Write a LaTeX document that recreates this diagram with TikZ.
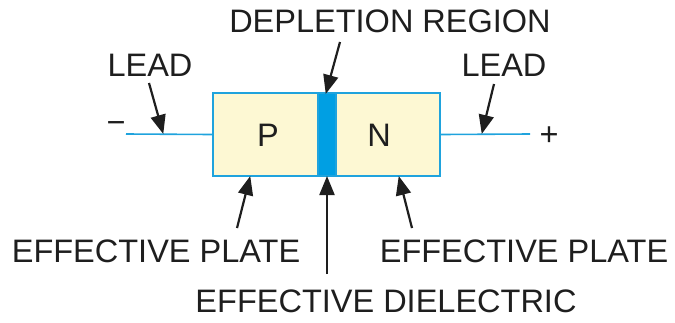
\documentclass[tikz,border=0pt]{standalone}
\usepackage{fontspec}
\setmainfont{Liberation Sans}
\usetikzlibrary{arrows.meta}
\definecolor{leadblue}{HTML}{1FA3DD}
\definecolor{bandblue}{HTML}{009FE3}
\definecolor{plate}{HTML}{FDF8D3}
\definecolor{ink}{HTML}{1E1E1E}
\tikzset{
  lbl/.style={font=\fontsize{32.5}{35}\selectfont, text=ink, inner sep=0pt},
  region/.style={draw=leadblue, line width=2pt, fill=plate, minimum height=83pt, inner sep=0pt},
  bandbox/.style={draw=leadblue, line width=2pt, fill=bandblue, minimum height=83pt, minimum width=18pt, inner sep=0pt},
  leadline/.style={draw=leadblue, line width=1.6pt},
  ptr/.style={draw=ink, line width=2.2pt, -{Triangle[length=19pt,width=15pt]}, shorten >=-1pt}
}
\begin{document}
\begin{tikzpicture}[x=1pt,y=-1pt]
\useasboundingbox (0,0) rectangle (675,322);
% regions
\node[region, minimum width=105pt] (pbox) at (265.5,134.5) {};
\node[region, minimum width=104pt] (nbox) at (388,134.5) {};
\node[bandbox] (band) at (327,134.5) {};
\node[lbl] (ptxt) at (268,135) {P};
\node[lbl] (ntxt) at (379,135) {N};
% leads
\coordinate (leadL) at (126,134);
\coordinate (leadR) at (530,134);
\draw[leadline] (leadL) -- (pbox.west);
\draw[leadline] (nbox.east) -- (leadR);
\node[lbl] (minus) at (116,128) {−};
\node[lbl] (plus) at (549,136) {+};
% labels
\node[lbl] (depl) at (390,21) {DEPLETION REGION};
\node[lbl] (leadLt) at (150,65) {LEAD};
\node[lbl] (leadRt) at (504,65) {LEAD};
\node[lbl] (platel) at (156,251) {EFFECTIVE PLATE};
\node[lbl] (plater) at (524,251) {EFFECTIVE PLATE};
\node[lbl] (diel) at (386,301) {EFFECTIVE DIELECTRIC};
% pointer coordinates
\coordinate (dT) at (340,42);   \coordinate (dH) at (326,93);
\coordinate (lT) at (149,83);   \coordinate (lH) at (163,133);
\coordinate (rT) at (494,84);   \coordinate (rH) at (482,133);
\coordinate (pT) at (237,228);  \coordinate (pH) at (250,177);
\coordinate (eT) at (327,274);  \coordinate (eH) at (327,177);
\coordinate (qT) at (412,228);  \coordinate (qH) at (399,177);
\draw[ptr] (dT) -- (dH);
\draw[ptr] (lT) -- (lH);
\draw[ptr] (rT) -- (rH);
\draw[ptr] (pT) -- (pH);
\draw[ptr] (eT) -- (eH);
\draw[ptr] (qT) -- (qH);
\end{tikzpicture}
\end{document}
